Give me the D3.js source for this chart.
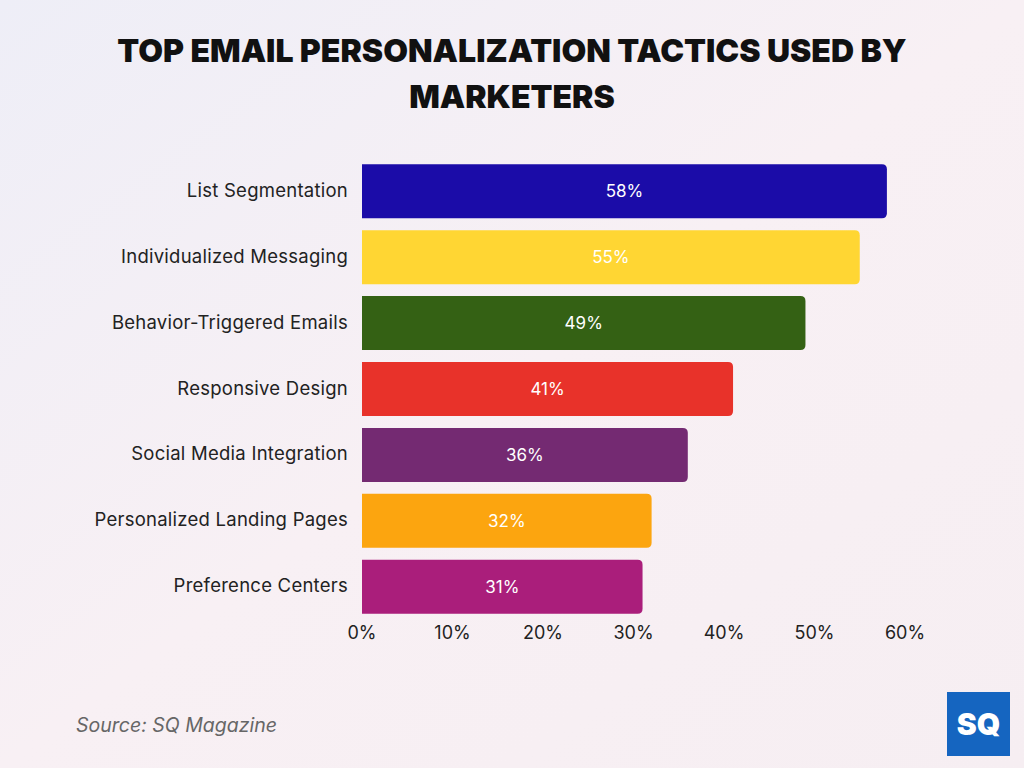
<!DOCTYPE html>
<html><head><meta charset="utf-8">
<script src="https://cdn.jsdelivr.net/npm/d3@7"></script>
<style>body{margin:0;}svg{display:block;font-family:Inter, "Open Sans", sans-serif;}</style>
</head><body>
<svg id="c" width="1024" height="768"></svg>
<script>
const categories=["List Segmentation","Individualized Messaging","Behavior-Triggered Emails","Responsive Design","Social Media Integration","Personalized Landing Pages","Preference Centers"];
const values=[58,55,49,41,36,32,31];
const colors=["#1b0ca8","#ffd633","#346114","#e8322a","#742a72","#fca50f","#aa1e7b"];
const ticks=[0,10,20,30,40,50,60];
const svg=d3.select("#c");
const defs=svg.append("defs");
const g=defs.append("linearGradient").attr("id","bg").attr("x1","0").attr("y1","0").attr("x2","1").attr("y2","1");
g.append("stop").attr("offset","0").attr("stop-color","#eeeef7");
g.append("stop").attr("offset","0.5").attr("stop-color","#f8f0f4");
g.append("stop").attr("offset","1").attr("stop-color","#f6eef2");
svg.append("rect").attr("width",1024).attr("height",768).attr("fill","url(#bg)");
svg.append("text").attr("x",512).attr("y",62).attr("text-anchor","middle").attr("font-size",32).attr("font-weight",900).attr("fill","#111").text("TOP EMAIL PERSONALIZATION TACTICS USED BY");
svg.append("text").attr("x",512).attr("y",108).attr("text-anchor","middle").attr("font-size",32).attr("font-weight",900).attr("fill","#111").text("MARKETERS");
const x=d3.scaleLinear().domain([0,60]).range([362,905]);
const y=d3.scaleBand().domain(categories).range([161,617]).paddingInner(0.18).paddingOuter(0.05);
categories.forEach((c,i)=>{
  const x0=x(0),x1=x(values[i]),y0=y(c),h=y.bandwidth(),r=5;
  svg.append("path").attr("fill",colors[i]).attr("d",`M${x0},${y0}H${x1-r}Q${x1},${y0} ${x1},${y0+r}V${y0+h-r}Q${x1},${y0+h} ${x1-r},${y0+h}H${x0}Z`);
  svg.append("text").attr("x",(x0+x1)/2).attr("y",y0+h/2).attr("dy","0.35em").attr("text-anchor","middle").attr("font-size",17).attr("fill","#fff").text(values[i]+"%");
  svg.append("text").attr("x",348).attr("y",y0+h/2).attr("dy","0.3em").attr("text-anchor","end").attr("font-size",18.5).attr("letter-spacing",0.25).attr("fill","#222").text(c);
});
ticks.forEach(t=>svg.append("text").attr("x",x(t)).attr("y",639).attr("text-anchor","middle").attr("font-size",18).attr("fill","#222").text(t+"%"));
svg.append("text").attr("x",76).attr("y",732).attr("font-size",19.5).attr("font-style","italic").attr("fill","#666").text("Source: SQ Magazine");
svg.append("rect").attr("x",947).attr("y",692).attr("width",63).attr("height",64).attr("fill","#1565c0");
svg.append("text").attr("x",978.5).attr("y",735).attr("text-anchor","middle").attr("font-size",30).attr("font-weight",900).attr("fill","#fff").text("SQ");
</script></body></html>
